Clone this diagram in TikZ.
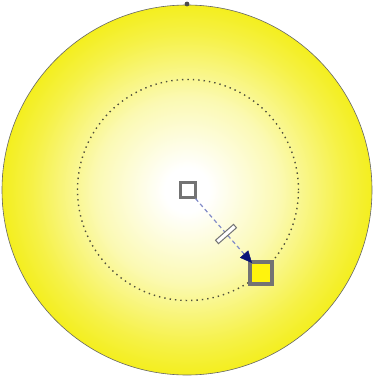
\documentclass[tikz,border=0pt]{standalone}
\usetikzlibrary{arrows.meta}
\definecolor{sunyel}{RGB}{242,236,0}
\definecolor{handlegray}{RGB}{115,115,115}
\definecolor{dashblue}{RGB}{130,140,200}
\definecolor{arrblue}{RGB}{10,20,120}
\definecolor{dotgray}{RGB}{80,80,60}
\pgfdeclareradialshading{sunfill}{\pgfpoint{0bp}{0bp}}{%
  color(0bp)=(white);
  color(3bp)=(white);
  color(12.5bp)=(sunyel!30!white);
  color(21bp)=(sunyel!72!white);
  color(28bp)=(sunyel);
  color(50bp)=(sunyel)}
\tikzset{
  handlebox/.style={draw=handlegray, line width=2.2pt, minimum size=15pt, inner sep=0pt},
}
\begin{document}
\begin{tikzpicture}[x=1pt,y=1pt]
\useasboundingbox (0,0) rectangle (373,-377);
\coordinate (c) at (187,-190);
\shade[shading=sunfill, draw=gray!80!black, line width=0.6pt] (c) circle[radius=185];
\fill[black!70] (187,-4) circle[radius=2.4];
\coordinate (ctr) at (188,-190);
\draw[dotgray, line width=1.4pt, dash pattern=on 1.4pt off 4pt] (ctr) circle[radius=110.5];
\node[handlebox, fill=white] (ws) at (ctr) {};
\node[handlebox, fill=yellow!95!white, line width=3.4pt, minimum size=22pt] (ys) at (261,-273) {};
\coordinate (tip) at (252,-263);
\coordinate (ab) at (243,-252.8);
\draw[dashblue, line width=1.2pt, dash pattern=on 4pt off 3pt] (ws) -- (ab);
\draw[arrblue, -{Triangle[length=12pt,width=11pt]}, line width=0.5pt] (ab) -- (tip);
\node[draw=handlegray, fill=white, line width=1pt, minimum width=24pt, minimum height=4.5pt, inner sep=0pt, rotate=41.3] (hd) at (226,-234) {};
\end{tikzpicture}
\end{document}
